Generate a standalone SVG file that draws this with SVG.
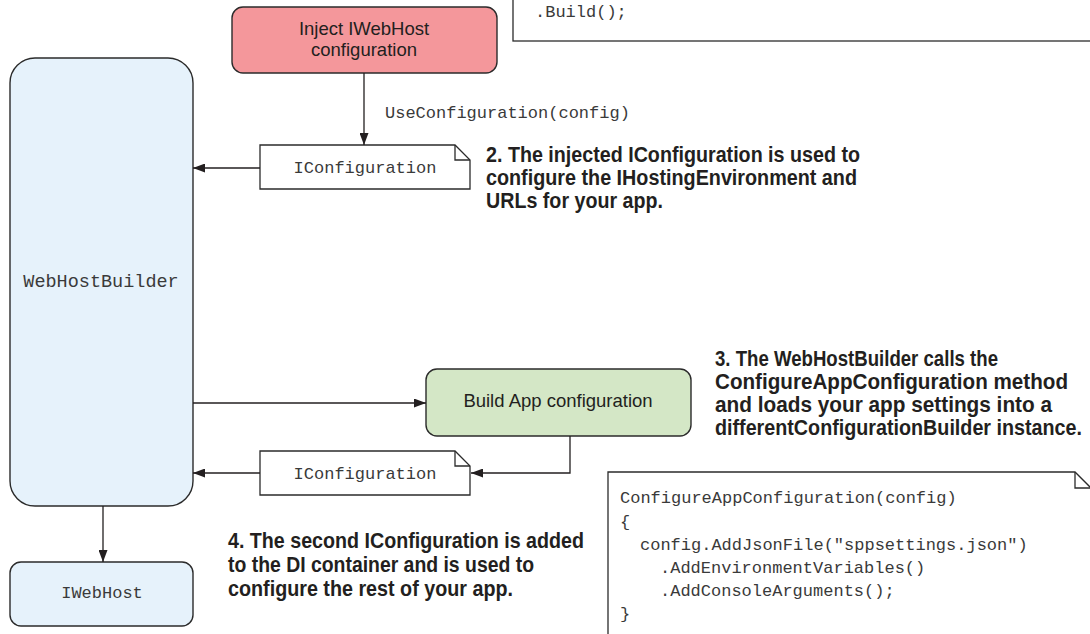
<svg xmlns="http://www.w3.org/2000/svg" width="1090" height="634" viewBox="0 0 1090 634">
<style>
.box{stroke:#2b2b2b;stroke-width:1.4}
.blue{fill:#e6f2fb}
.red{fill:#f4979b}
.green{fill:#d4e7c6}
.note{fill:#ffffff;stroke:#2b2b2b;stroke-width:1.3}
.fold{fill:none;stroke:#2b2b2b;stroke-width:1.3}
.conn{fill:none;stroke:#231f20;stroke-width:1.3}
.mono{font-family:"Liberation Mono","Courier New",monospace;font-size:17px;fill:#3a3a3a}
.sans{font-family:"Liberation Sans",Arial,sans-serif;font-size:18.5px;fill:#231f20}
.ann{font-family:"Liberation Sans Narrow","Liberation Sans",Arial,sans-serif;font-size:22px;font-weight:bold;fill:#231f20}
</style>
<defs>
<marker id="arr" markerUnits="userSpaceOnUse" markerWidth="13" markerHeight="9" refX="12" refY="4.5" orient="auto">
<path d="M0,0 L12,4.5 L0,9 z" fill="#231f20"/>
</marker>
</defs>
<rect width="1090" height="634" fill="#ffffff"/>

<g id="code-top">
<rect x="513" y="-50" width="600" height="91" class="note"/>
<text x="535" y="17" class="mono">.Build();</text>
</g>

<g id="inject">
<rect x="232" y="7" width="265" height="66" rx="11" class="box red"/>
<text x="364" y="35" text-anchor="middle" class="sans">Inject IWebHost</text>
<text x="364" y="56" text-anchor="middle" class="sans">configuration</text>
</g>

<g id="webhostbuilder">
<rect x="10" y="58" width="183" height="448" rx="25" class="box blue"/>
<text x="101" y="287" text-anchor="middle" class="mono" style="font-size:18.5px">WebHostBuilder</text>
</g>

<g id="iwebhost">
<rect x="10" y="562" width="183" height="64" rx="11" class="box blue"/>
<text x="102" y="598" text-anchor="middle" class="mono">IWebHost</text>
</g>

<g id="iconfig1">
<path d="M260,145 H455 L470,160 V189 H260 Z" class="note"/>
<path d="M455,145 V160 H470" class="fold"/>
<text x="365" y="173" text-anchor="middle" class="mono">IConfiguration</text>
</g>

<g id="buildapp">
<rect x="426" y="369" width="265" height="67" rx="11" class="box green"/>
<text x="558" y="407" text-anchor="middle" class="sans">Build App configuration</text>
</g>

<g id="iconfig2">
<path d="M260,451 H455 L470,466 V495 H260 Z" class="note"/>
<path d="M455,451 V466 H470" class="fold"/>
<text x="365" y="479" text-anchor="middle" class="mono">IConfiguration</text>
</g>

<g id="code-bottom">
<path d="M608,472 H1075 L1091,488 V660 H608 Z" class="note"/>
<path d="M1075,472 V488 H1091" class="fold"/>
<text x="620" y="503" class="mono">ConfigureAppConfiguration(config)</text>
<text x="620" y="527" class="mono">{</text>
<text x="640" y="550" class="mono">config.AddJsonFile("sppsettings.json")</text>
<text x="660" y="573" class="mono">.AddEnvironmentVariables()</text>
<text x="660" y="596" class="mono">.AddConsoleArguments();</text>
<text x="620" y="619" class="mono">}</text>
</g>

<g id="connectors">
<path d="M364,73 V145" class="conn" marker-end="url(#arr)"/>
<path d="M260,168 H193" class="conn" marker-end="url(#arr)"/>
<path d="M193,403 H426" class="conn" marker-end="url(#arr)"/>
<path d="M570,436 V473 H471" class="conn" marker-end="url(#arr)"/>
<path d="M260,473 H193" class="conn" marker-end="url(#arr)"/>
<path d="M103,506 V562" class="conn" marker-end="url(#arr)"/>
<text x="385" y="118" class="mono">UseConfiguration(config)</text>
</g>

<g id="annotation-2">
<text x="486" y="162" class="ann" textLength="374" lengthAdjust="spacingAndGlyphs">2. The injected IConfiguration is used to</text>
<text x="486" y="185" class="ann" textLength="371" lengthAdjust="spacingAndGlyphs">configure the IHostingEnvironment and</text>
<text x="486" y="208" class="ann" textLength="177" lengthAdjust="spacingAndGlyphs">URLs for your app.</text>
</g>

<g id="annotation-3">
<text x="715" y="366" class="ann" textLength="283" lengthAdjust="spacingAndGlyphs">3. The WebHostBuilder calls the</text>
<text x="715" y="389" class="ann" textLength="353" lengthAdjust="spacingAndGlyphs">ConfigureAppConfiguration method</text>
<text x="715" y="412" class="ann" textLength="337" lengthAdjust="spacingAndGlyphs">and loads your app settings into a</text>
<text x="715" y="435" class="ann" textLength="367" lengthAdjust="spacingAndGlyphs">differentConfigurationBuilder instance.</text>
</g>

<g id="annotation-4">
<text x="228" y="548" class="ann" textLength="356" lengthAdjust="spacingAndGlyphs">4. The second IConfiguration is added</text>
<text x="228" y="572" class="ann" textLength="306" lengthAdjust="spacingAndGlyphs">to the DI container and is used to</text>
<text x="228" y="596" class="ann" textLength="285" lengthAdjust="spacingAndGlyphs">configure the rest of your app.</text>
</g>
</svg>
